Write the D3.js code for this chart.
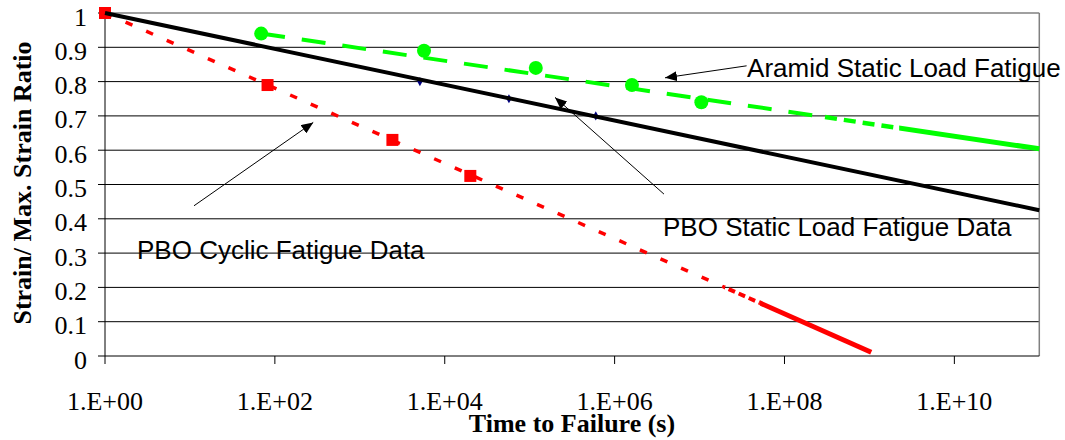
<!DOCTYPE html>
<html>
<head>
<meta charset="utf-8">
<script src="https://cdn.jsdelivr.net/npm/d3@7/dist/d3.min.js"></script>
<style>
  body { margin: 0; background: #fff; }
  .tick-label { font-family: "Liberation Serif", "Times New Roman", serif; font-size: 26px; fill: #000; }
  .axis-title { font-family: "Liberation Serif", "Times New Roman", serif; font-size: 26px; font-weight: bold; fill: #000; }
  .note { font-family: "Liberation Sans", Arial, sans-serif; font-size: 26px; fill: #000; }
</style>
</head>
<body>
<svg id="chart" width="1065" height="440"></svg>
<script>
/* Strain ratio vs time to failure, log time axis */

const xTicks = [1e0, 1e2, 1e4, 1e6, 1e8, 1e10];
const xTickLabels = ['1.E+00', '1.E+02', '1.E+04', '1.E+06', '1.E+08', '1.E+10'];
const yTicks = [0, 0.1, 0.2, 0.3, 0.4, 0.5, 0.6, 0.7, 0.8, 0.9, 1];
const yTickLabels = ['0', '0.1', '0.2', '0.3', '0.4', '0.5', '0.6', '0.7', '0.8', '0.9', '1'];

// PBO static load fatigue data (diamonds) and its trend line
const pboStaticTime = [5100, 57000, 600000];
const pboStaticRatio = [0.80, 0.75, 0.70];
const pboStaticTrendTime = [1, 1e11];
const pboStaticTrendRatio = [1.0, 0.425];

// Aramid static load fatigue (circles) and trend line
const aramidTime = [69, 5700, 118000, 1.6e6, 1.05e7];
const aramidRatio = [0.94, 0.89, 0.84, 0.79, 0.74];
const aramidTrendTime = [69, 1e11];
const aramidTrendRatio = [0.94, 0.604];

// PBO cyclic fatigue data (squares) and trend line
const pboCyclicTime = [1, 82, 2420, 20000];
const pboCyclicRatio = [1.0, 0.79, 0.63, 0.525];
const pboCyclicTrendTime = [1, 1.05e9];
const pboCyclicTrendRatio = [1.0, 0.011];

// callouts: [log10 time, ratio]
const noteLabels = ['Aramid Static Load Fatigue', 'PBO Static Load Fatigue Data', 'PBO Cyclic Fatigue Data'];
const noteTextAt = [[7.56, 0.813], [6.57, 0.350], [0.377, 0.283]];
const noteArrowFrom = [[7.554, 0.846], [6.581, 0.472], [1.048, 0.438]];
const noteArrowTo = [[6.593, 0.811], [5.298, 0.754], [2.452, 0.681]];

const LEFT = 105, RIGHT = 1039.3, TOP = 13, BOTTOM = 356;

const svg = d3.select('#chart');
const x = d3.scaleLog().domain([1, 1e11]).range([LEFT, RIGHT]);
const y = d3.scaleLinear().domain([0, 1]).range([BOTTOM, TOP]);

const zip = (a, b) => a.map((d, i) => [d, b[i]]);
const line = d3.line().x(d => x(d[0])).y(d => y(d[1]));

// gridlines
svg.append('g').selectAll('line')
    .data(yTicks.filter(v => v > 0))
    .join('line')
    .attr('x1', LEFT).attr('x2', RIGHT)
    .attr('y1', d => y(d)).attr('y2', d => y(d))
    .attr('stroke', d => d === 1 ? '#808080' : '#000')
    .attr('stroke-width', d => d === 1 ? 1.5 : 1);

// right border
svg.append('line')
    .attr('x1', RIGHT).attr('x2', RIGHT).attr('y1', TOP).attr('y2', BOTTOM)
    .attr('stroke', '#808080').attr('stroke-width', 1.5);

// axes
svg.append('line').attr('x1', LEFT).attr('x2', LEFT).attr('y1', TOP).attr('y2', BOTTOM).attr('stroke', '#000');
svg.append('line').attr('x1', LEFT).attr('x2', RIGHT).attr('y1', BOTTOM).attr('y2', BOTTOM).attr('stroke', '#000');

svg.append('g').selectAll('line')
    .data(yTicks)
    .join('line')
    .attr('x1', LEFT - 7).attr('x2', LEFT)
    .attr('y1', d => y(d)).attr('y2', d => y(d))
    .attr('stroke', '#000');

svg.append('g').selectAll('text')
    .data(yTicks)
    .join('text')
    .attr('class', 'tick-label')
    .attr('x', 87)
    .attr('y', d => y(d) + 12.5)
    .attr('text-anchor', 'end')
    .text((d, i) => yTickLabels[i]);

svg.append('g').selectAll('line')
    .data(xTicks)
    .join('line')
    .attr('x1', d => x(d)).attr('x2', d => x(d))
    .attr('y1', BOTTOM).attr('y2', BOTTOM + 8)
    .attr('stroke', '#000');

svg.append('g').selectAll('text')
    .data(xTicks)
    .join('text')
    .attr('class', 'tick-label')
    .attr('x', d => x(d))
    .attr('y', 410)
    .attr('text-anchor', 'middle')
    .text((d, i) => xTickLabels[i]);

svg.append('text')
    .attr('class', 'axis-title')
    .attr('x', 572).attr('y', 432)
    .attr('text-anchor', 'middle')
    .text('Time to Failure (s)');

svg.append('text')
    .attr('class', 'axis-title')
    .attr('transform', 'translate(31,183) rotate(-90)')
    .attr('text-anchor', 'middle')
    .text('Strain/ Max. Strain Ratio');

// markers
svg.append('g').selectAll('path')
    .data(zip(pboStaticTime, pboStaticRatio))
    .join('path')
    .attr('d', d3.symbol(d3.symbolDiamond, 24))
    .attr('transform', d => `translate(${x(d[0])},${y(d[1])})`)
    .attr('fill', '#000080');

svg.append('g').selectAll('circle')
    .data(zip(aramidTime, aramidRatio))
    .join('circle')
    .attr('cx', d => x(d[0])).attr('cy', d => y(d[1]))
    .attr('r', 7)
    .attr('fill', '#00ff00');

svg.append('g').selectAll('rect')
    .data(zip(pboCyclicTime, pboCyclicRatio))
    .join('rect')
    .attr('x', d => x(d[0]) - 6).attr('y', d => y(d[1]) - 6)
    .attr('width', 12).attr('height', 12)
    .attr('fill', '#ff0000');

/* trend lines: the dash pattern tightens toward the right end,
   so each line is drawn several times, clipped to a band of x */
const defs = svg.append('defs');
function band(id, fromExp, toExp) {
    defs.append('clipPath').attr('id', id)
        .append('rect')
        .attr('x', x(10 ** fromExp)).attr('width', x(10 ** toExp) - x(10 ** fromExp))
        .attr('y', 0).attr('height', 440);
    return `url(#${id})`;
}

function trend(points, color, phases) {
    phases.forEach((p, i) => {
        svg.append('path')
            .datum(points)
            .attr('d', line)
            .attr('fill', 'none')
            .attr('stroke', color)
            .attr('stroke-width', p.width)
            .attr('stroke-dasharray', p.dash)
            .attr('clip-path', band(color.slice(1) + i, p.from, p.to));
    });
}

trend(zip(aramidTrendTime, aramidTrendRatio), '#00ff00', [
    {from: 0, to: 8.45, dash: '24,17', width: 4},
    {from: 8.45, to: 9.35, dash: '12,7', width: 4.5},
    {from: 9.35, to: 11.2, dash: null, width: 5}
]);
trend(zip(pboCyclicTrendTime, pboCyclicTrendRatio), '#ff0000', [
    {from: -1, to: 7.3, dash: '7.5,15', width: 3.5},
    {from: 7.3, to: 7.71, dash: '7,4', width: 4},
    {from: 7.71, to: 11, dash: null, width: 5}
]);
svg.append('path')
    .datum(zip(pboStaticTrendTime, pboStaticTrendRatio))
    .attr('d', line)
    .attr('fill', 'none')
    .attr('stroke', '#000')
    .attr('stroke-width', 4);

// callouts
defs.append('marker')
    .attr('id', 'head')
    .attr('markerUnits', 'userSpaceOnUse')
    .attr('viewBox', '0 0 12 10')
    .attr('refX', 12).attr('refY', 5)
    .attr('markerWidth', 12).attr('markerHeight', 10)
    .attr('orient', 'auto')
    .append('path')
    .attr('d', 'M0,0L12,5L0,10Z')
    .attr('fill', '#000');

const px = e => x(10 ** e[0]);
const py = e => y(e[1]);

svg.append('g').selectAll('line')
    .data(noteLabels)
    .join('line')
    .attr('x1', (d, i) => px(noteArrowFrom[i])).attr('y1', (d, i) => py(noteArrowFrom[i]))
    .attr('x2', (d, i) => px(noteArrowTo[i])).attr('y2', (d, i) => py(noteArrowTo[i]))
    .attr('stroke', '#000')
    .attr('stroke-width', 1)
    .attr('marker-end', 'url(#head)');

svg.append('g').selectAll('text')
    .data(noteLabels)
    .join('text')
    .attr('class', 'note')
    .attr('x', (d, i) => px(noteTextAt[i]))
    .attr('y', (d, i) => py(noteTextAt[i]))
    .text(d => d);
</script>
</body>
</html>
